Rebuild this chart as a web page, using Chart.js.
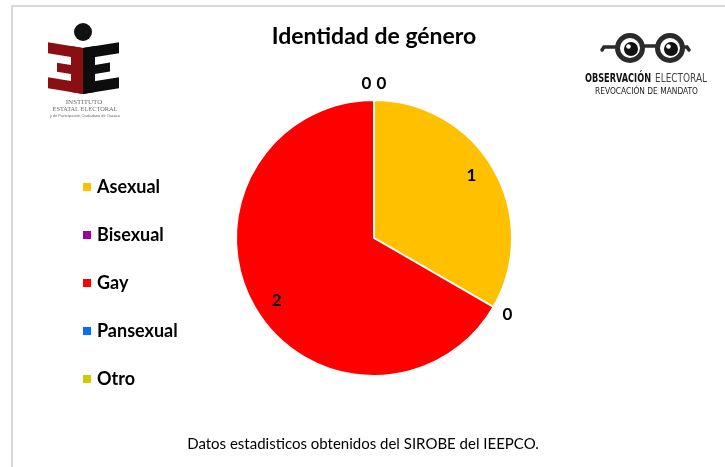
<!DOCTYPE html>
<html>
<head>
<meta charset="utf-8">
<script src="https://cdn.jsdelivr.net/npm/chart.js@4"></script>
<style>
html,body{margin:0;padding:0;background:#fff;}
#wrap{position:relative;width:725px;height:467px;}
</style>
</head>
<body>
<div id="wrap"><canvas id="c" width="725" height="467"></canvas></div>
<script>
const titleText = "Identidad de género";
const categories = ["Asexual", "Bisexual", "Gay", "Pansexual", "Otro"];
const values = [1, 0, 2, 0, 0];
const colors = ["#FFC000", "#A000A0", "#FF0000", "#0A6CFF", "#CCCC00"];
const footnote = "Datos estadisticos obtenidos del SIROBE del IEEPCO.";

function drawLeftLogo(ctx) {
  ctx.save();
  ctx.fillStyle = "#111";
  ctx.beginPath(); ctx.arc(83, 32, 9, 0, Math.PI * 2); ctx.fill();
  const cx = 83, half = 37;
  const sk = (x, y) => [x, y + 6 * (1 - Math.abs(x - cx) / half)];
  function poly(pts, col) {
    ctx.fillStyle = col;
    ctx.beginPath();
    pts.forEach((p, i) => { const q = sk(p[0], p[1]); i ? ctx.lineTo(q[0], q[1]) : ctx.moveTo(q[0], q[1]); });
    ctx.closePath(); ctx.fill();
  }
  const m = "#8B0E12";
  poly([[48,42],[83,42],[83,53],[48,53]], m);
  poly([[71,42],[83,42],[83,88],[71,88]], m);
  poly([[57,61],[83,61],[83,70],[57,70]], m);
  poly([[48,77],[83,77],[83,88],[48,88]], m);
  const b = "#0d0d0d";
  poly([[83,42],[119,42],[119,53],[83,53]], b);
  poly([[83,42],[95,42],[95,88],[83,88]], b);
  poly([[83,61],[110,61],[110,70],[83,70]], b);
  poly([[83,77],[119,77],[119,88],[83,88]], b);
  ctx.fillStyle = "#6a6a6a";
  ctx.textAlign = "center"; ctx.textBaseline = "middle";
  ctx.font = "7px 'Liberation Serif'";
  ctx.fillText("INSTITUTO", 84, 102, 38);
  ctx.fillText("ESTATAL ELECTORAL", 85, 109, 65);
  ctx.font = "4px 'Liberation Sans'";
  ctx.fillText("y de Participación Ciudadana de Oaxaca", 85, 116, 70);
  ctx.restore();
}

function drawRightLogo(ctx) {
  ctx.save();
  const dark = "#2b2b2b";
  ctx.strokeStyle = dark; ctx.lineCap = "round";
  ctx.lineWidth = 3.5;
  ctx.beginPath(); ctx.moveTo(615, 47); ctx.lineTo(604, 47); ctx.lineTo(602, 50); ctx.stroke();
  ctx.beginPath(); ctx.moveTo(685, 47); ctx.lineTo(687, 47); ctx.lineTo(689, 50); ctx.stroke();
  ctx.beginPath(); ctx.moveTo(643, 46); ctx.lineTo(657, 46); ctx.stroke();
  [630, 670].forEach(x => {
    ctx.lineWidth = 5;
    ctx.beginPath(); ctx.arc(x, 48, 12.5, 0, Math.PI * 2); ctx.stroke();
    ctx.fillStyle = "#111";
    ctx.beginPath(); ctx.arc(x + 1, 49, 7, 0, Math.PI * 2); ctx.fill();
    ctx.fillStyle = "#fff";
    ctx.beginPath(); ctx.arc(x - 1.5, 46.5, 2.3, 0, Math.PI * 2); ctx.fill();
  });
  ctx.textBaseline = "middle"; ctx.textAlign = "left";
  ctx.font = "bold 12px 'Liberation Sans Narrow', 'DejaVu Sans Condensed', 'Liberation Sans'";
  ctx.fillStyle = "#111";
  ctx.fillText("OBSERVACIÓN", 585, 79, 66);
  ctx.fillStyle = "#444";
  ctx.font = "12px 'Liberation Sans Narrow', 'DejaVu Sans Condensed', 'Liberation Sans'";
  ctx.fillText("ELECTORAL", 655, 79, 52);
  ctx.fillStyle = "#222";
  ctx.font = "9px 'Liberation Sans Narrow', 'DejaVu Sans Condensed', 'Liberation Sans'";
  ctx.fillText("REVOCACIÓN DE MANDATO", 595, 92, 103);
  ctx.restore();
}

const decorPlugin = {
  id: "decor",
  beforeDraw(chart) {
    const ctx = chart.ctx;
    ctx.save();
    ctx.fillStyle = "#fff";
    ctx.fillRect(0, 0, chart.width, chart.height);
    ctx.strokeStyle = "#d9d9d9"; ctx.lineWidth = 2;
    ctx.beginPath(); ctx.moveTo(12, 470); ctx.lineTo(12, 6); ctx.lineTo(730, 6); ctx.stroke();
    ctx.restore();
  },
  afterDraw(chart) {
    const ctx = chart.ctx;
    ctx.save();
    drawLeftLogo(ctx);
    drawRightLogo(ctx);
    ctx.fillStyle = "#000";
    ctx.textAlign = "center"; ctx.textBaseline = "middle";
    ctx.font = "bold 23px Lato";
    ctx.fillText(titleText, 374, 37);
    ctx.textAlign = "left";
    ctx.font = "bold 18px Lato";
    const meta = chart.getDatasetMeta(0);
    chart.data.labels.forEach((lab, i) => {
      const y = 187 + i * 48;
      ctx.fillStyle = chart.data.datasets[0].backgroundColor[i];
      ctx.fillRect(83, y - 4, 8, 8);
      ctx.fillStyle = "#000";
      ctx.fillText(lab, 97, y);
    });
    ctx.textAlign = "center";
    ctx.font = "15px Lato";
    ctx.fillText(footnote, 363, 444);
    ctx.font = "bold 17px Lato";
    const groups = {};
    meta.data.forEach((arc, i) => {
      const p = arc.getProps(["x", "y", "startAngle", "endAngle", "outerRadius"], true);
      const v = chart.data.datasets[0].data[i];
      if (v > 0) {
        const a = (p.startAngle + p.endAngle) / 2 - 0.05;
        const r = p.outerRadius * 0.84;
        ctx.fillText(String(v), p.x + Math.cos(a) * r, p.y + Math.sin(a) * r);
      } else {
        const key = (p.startAngle % (Math.PI * 2)).toFixed(3);
        (groups[key] = groups[key] || []).push({p, v});
      }
    });
    Object.values(groups).forEach(g => {
      g.forEach((it, k) => {
        const p = it.p, a = p.startAngle, r = p.outerRadius + 16;
        const dx = (k - (g.length - 1) / 2) * 15;
        ctx.fillText(String(it.v), p.x + Math.cos(a) * r + dx, p.y + Math.sin(a) * r);
      });
    });
    ctx.restore();
  }
};

new Chart(document.getElementById("c"), {
  type: "pie",
  data: {
    labels: categories,
    datasets: [{
      data: values,
      backgroundColor: colors,
      borderColor: "#ffffff",
      borderWidth: 2
    }]
  },
  options: {
    responsive: false,
    animation: false,
    layout: { padding: { left: 235, right: 212, top: 99, bottom: 90 } },
    plugins: { legend: { display: false }, title: { display: false }, tooltip: { enabled: false } }
  },
  plugins: [decorPlugin]
});
</script>
</body>
</html>
